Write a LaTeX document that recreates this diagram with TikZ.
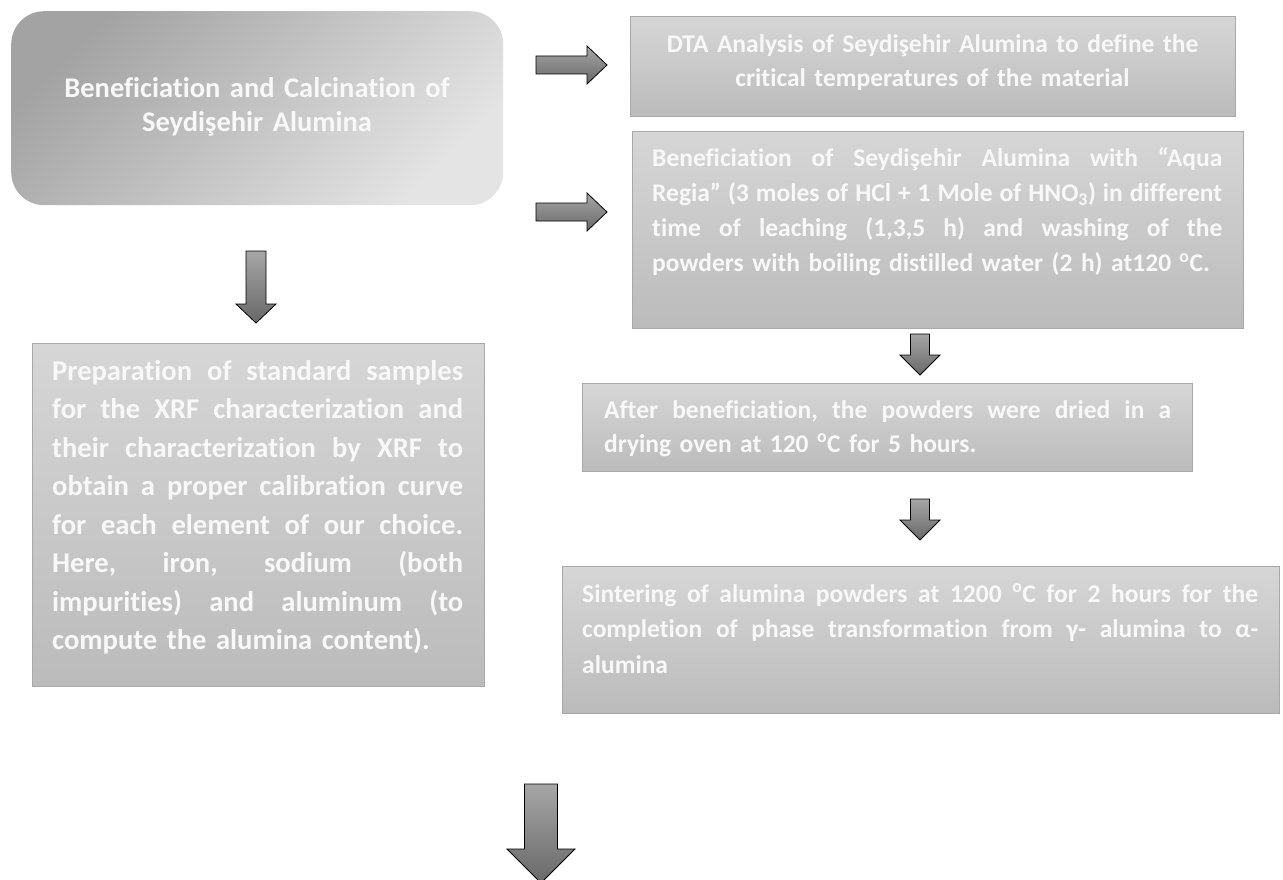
\documentclass[tikz,border=0pt]{standalone}
\usepackage{fontspec}
\setmainfont{Carlito}[Ligatures=NoCommon]

\definecolor{txtwhite}{HTML}{F8F8F8}
\definecolor{boxtop}{HTML}{D6D6D6}
\definecolor{boxbot}{HTML}{BBBBBB}
\definecolor{boxedge}{HTML}{A8A8A8}
\definecolor{startdark}{HTML}{A3A3A3}
\definecolor{startlight}{HTML}{E4E4E4}
\definecolor{arrtop}{HTML}{A6A6A6}
\definecolor{arrbot}{HTML}{686868}

% one justified line of a paragraph, its word spaces stretched to the given width
\newcommand{\jline}[2]{\leavevmode\hbox to #1{\frenchspacing
  \spaceskip=\fontdimen2\font plus 1fil minus 0.08em\relax\strut #2}}
\newcommand{\degC}{\textsuperscript{o}C}
\newcommand{\subthree}{\textsubscript{3}}

% block arrow pointing right: name, tail x, base x, tip x, centre y, half body, half head
\newcommand{\rightblock}[7]{%
  \coordinate (#1) at (#2,#5);
  \draw[blockarrow] (#2,{#5-#6}) -- (#3,{#5-#6}) -- (#3,{#5-#7}) -- (#4,#5)
    -- (#3,{#5+#7}) -- (#3,{#5+#6}) -- (#2,{#5+#6}) -- cycle;}
% block arrow pointing down: name, centre x, tail y, base y, tip y, half body, half head
\newcommand{\downblock}[7]{%
  \coordinate (#1) at (#2,#3);
  \draw[blockarrow] ({#2-#6},#3) -- ({#2+#6},#3) -- ({#2+#6},#4) -- ({#2+#7},#4)
    -- (#2,#5) -- ({#2-#7},#4) -- ({#2-#6},#4) -- cycle;}

\begin{document}
\begin{tikzpicture}[x=1pt,y=-1pt,
  stepbox/.style={draw=boxedge, line width=1.4pt, top color=boxtop, bottom color=boxbot,
    inner sep=0pt, anchor=north west},
  startbox/.style={rounded corners=33pt, top color=startdark, bottom color=startlight,
    shading angle=45, inner sep=0pt, anchor=north west},
  boxtext/.style={text=txtwhite, inner sep=0pt, anchor=base west, align=left},
  ctrtext/.style={text=txtwhite, inner sep=0pt, anchor=base, align=center},
  blockarrow/.style={draw=black, line width=0.8pt, line join=miter, top color=arrtop,
    bottom color=arrbot}
]
\useasboundingbox (0,0) rectangle (1283,880);

% ---- boxes ----
\node[startbox, minimum width=492pt, minimum height=194pt] (start) at (11,11) {};
\node[ctrtext, text width=480pt, font=\bfseries\fontsize{28.5}{34}\selectfont] (starttxt) at (257,98)
  {Beneficiation and Calcination of\\Seydişehir Alumina};

\node[stepbox, minimum width=605pt, minimum height=100pt] (dta) at (630,16) {};
\node[ctrtext, text width=600pt, font=\bfseries\fontsize{25.5}{34}\selectfont] (dtatxt) at (932.5,53)
  {DTA Analysis of Seydişehir Alumina to define the\\critical temperatures of the material};

\node[stepbox, minimum width=611pt, minimum height=197pt] (leach) at (632,131) {};
\node[boxtext, text width=570pt, font=\bfseries\fontsize{25.5}{35}\selectfont] (leachtxt) at (652,167)
  {\jline{570pt}{Beneficiation of Seydişehir Alumina with “Aqua}\\
   \jline{570pt}{Regia” (3 moles of HCl + 1 Mole of HNO\subthree) in different}\\
   \jline{570pt}{time of leaching (1,3,5 h) and washing of the}\\
   \strut powders with boiling distilled water (2 h) at120 \degC.};

\node[stepbox, minimum width=452pt, minimum height=343pt] (xrf) at (32,343) {};
\node[boxtext, text width=411pt, font=\bfseries\fontsize{28.6}{38.5}\selectfont] (xrftxt) at (52,380)
  {\jline{411pt}{Preparation of standard samples}\\
   \jline{411pt}{for the XRF characterization and}\\
   \jline{411pt}{their characterization by XRF to}\\
   \jline{411pt}{obtain a proper calibration curve}\\
   \jline{411pt}{for each element of our choice.}\\
   \jline{411pt}{Here, iron, sodium (both}\\
   \jline{411pt}{impurities) and aluminum (to}\\
   \strut compute the alumina content).};

\node[stepbox, minimum width=610pt, minimum height=88pt] (dry) at (582,383) {};
\node[boxtext, text width=567pt, font=\bfseries\fontsize{25.5}{34}\selectfont] (drytxt) at (604,418)
  {\jline{567pt}{After beneficiation, the powders were dried in a}\\
   \strut drying oven at 120 \degC{} for 5 hours.};

\node[stepbox, minimum width=717pt, minimum height=147pt] (sinter) at (562,566) {};
\node[boxtext, text width=676pt, font=\bfseries\fontsize{25.5}{35.5}\selectfont] (sintertxt) at (582,602)
  {\jline{676pt}{Sintering of alumina powders at 1200 \degC{} for 2 hours for the}\\
   \jline{676pt}{completion of phase transformation from γ- alumina to α-}\\
   \strut alumina};

% ---- block arrows ----
\rightblock{a1}{536}{587}{607}{65}{9}{19}
\rightblock{a2}{536}{587}{607}{212}{9}{19}
\downblock{a3}{256}{251}{304}{323}{10}{20}
\downblock{a4}{920}{334}{355}{375}{9.5}{20}
\downblock{a5}{920}{499}{520}{540}{9.5}{20}
\downblock{a6}{541}{784}{849}{883}{16.5}{34}
\end{tikzpicture}
\end{document}
